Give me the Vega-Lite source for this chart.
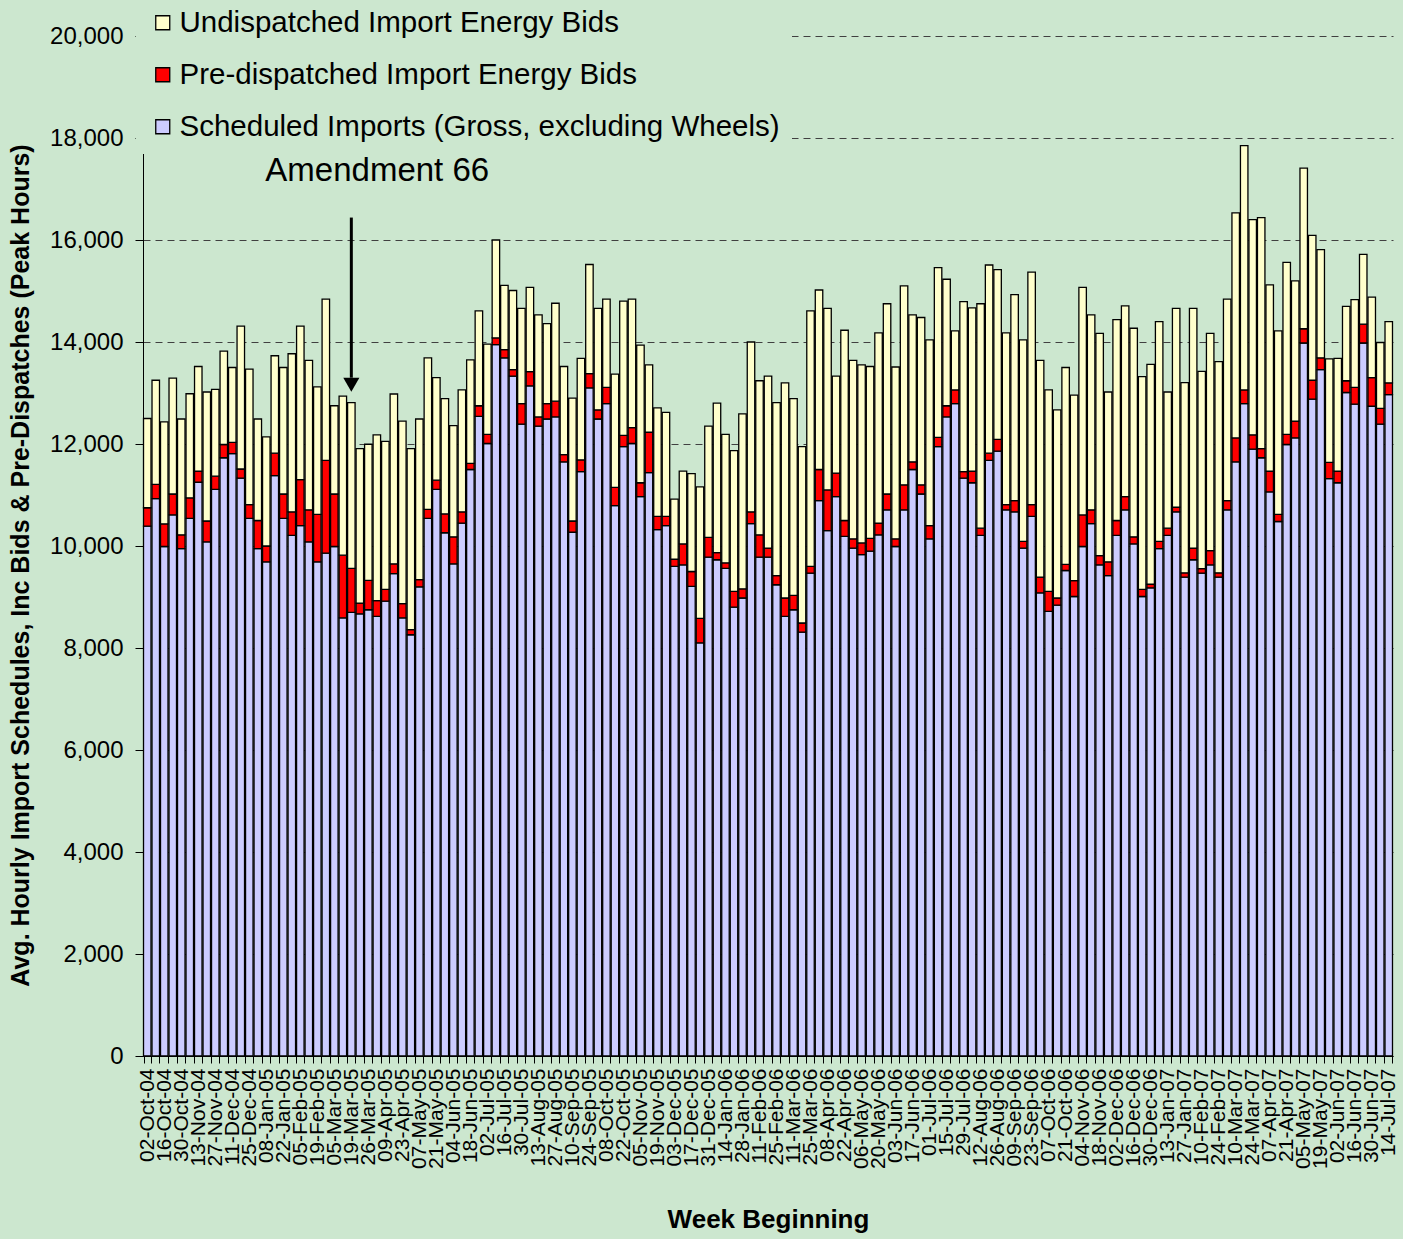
{
  "$schema": "https://vega.github.io/schema/vega-lite/v6.json",
  "width": 1250,
  "height": 1020,
  "autosize": {"type": "none"},
  "padding": {"left": 143, "top": 36, "right": 10, "bottom": 183},
  "background": "#CCE7CF",
  "config": {
    "view": {"stroke": null},
    "font": "Arial, Liberation Sans, sans-serif"
  },
  "data": {
    "values": [
      {"week":"02-Oct-04","imports":10390,"predispatched":360,"undispatched":1750},
      {"week":"09-Oct-04","imports":10930,"predispatched":280,"undispatched":2040},
      {"week":"16-Oct-04","imports":9990,"predispatched":445,"undispatched":2000},
      {"week":"23-Oct-04","imports":10610,"predispatched":410,"undispatched":2270},
      {"week":"30-Oct-04","imports":9950,"predispatched":270,"undispatched":2270},
      {"week":"06-Nov-04","imports":10540,"predispatched":405,"undispatched":2040},
      {"week":"13-Nov-04","imports":11250,"predispatched":220,"undispatched":2050},
      {"week":"20-Nov-04","imports":10080,"predispatched":410,"undispatched":2530},
      {"week":"27-Nov-04","imports":11110,"predispatched":260,"undispatched":1700},
      {"week":"04-Dec-04","imports":11730,"predispatched":260,"undispatched":1830},
      {"week":"11-Dec-04","imports":11810,"predispatched":220,"undispatched":1470},
      {"week":"18-Dec-04","imports":11330,"predispatched":180,"undispatched":2800},
      {"week":"25-Dec-04","imports":10540,"predispatched":270,"undispatched":2660},
      {"week":"01-Jan-05","imports":9950,"predispatched":550,"undispatched":1990},
      {"week":"08-Jan-05","imports":9690,"predispatched":310,"undispatched":2140},
      {"week":"15-Jan-05","imports":11380,"predispatched":440,"undispatched":1910},
      {"week":"22-Jan-05","imports":10540,"predispatched":480,"undispatched":2480},
      {"week":"29-Jan-05","imports":10210,"predispatched":460,"undispatched":3100},
      {"week":"05-Feb-05","imports":10400,"predispatched":900,"undispatched":3010},
      {"week":"12-Feb-05","imports":10080,"predispatched":630,"undispatched":2930},
      {"week":"19-Feb-05","imports":9690,"predispatched":930,"undispatched":2500},
      {"week":"26-Feb-05","imports":9860,"predispatched":1820,"undispatched":3160},
      {"week":"05-Mar-05","imports":9990,"predispatched":1030,"undispatched":1730},
      {"week":"12-Mar-05","imports":8590,"predispatched":1230,"undispatched":3120},
      {"week":"19-Mar-05","imports":8700,"predispatched":860,"undispatched":3250},
      {"week":"22-Mar-05","imports":8670,"predispatched":210,"undispatched":3030},
      {"week":"26-Mar-05","imports":8750,"predispatched":575,"undispatched":2670},
      {"week":"02-Apr-05","imports":8620,"predispatched":310,"undispatched":3250},
      {"week":"09-Apr-05","imports":8920,"predispatched":230,"undispatched":2900},
      {"week":"16-Apr-05","imports":9460,"predispatched":190,"undispatched":3330},
      {"week":"23-Apr-05","imports":8590,"predispatched":280,"undispatched":3580},
      {"week":"30-Apr-05","imports":8260,"predispatched":100,"undispatched":3550},
      {"week":"07-May-05","imports":9200,"predispatched":140,"undispatched":3150},
      {"week":"14-May-05","imports":10540,"predispatched":180,"undispatched":2970},
      {"week":"21-May-05","imports":11110,"predispatched":180,"undispatched":2010},
      {"week":"28-May-05","imports":10260,"predispatched":370,"undispatched":2260},
      {"week":"04-Jun-05","imports":9650,"predispatched":530,"undispatched":2180},
      {"week":"11-Jun-05","imports":10450,"predispatched":220,"undispatched":2390},
      {"week":"18-Jun-05","imports":11500,"predispatched":120,"undispatched":2030},
      {"week":"25-Jun-05","imports":12540,"predispatched":210,"undispatched":1860},
      {"week":"02-Jul-05","imports":12010,"predispatched":180,"undispatched":1770},
      {"week":"09-Jul-05","imports":13950,"predispatched":130,"undispatched":1920},
      {"week":"16-Jul-05","imports":13690,"predispatched":160,"undispatched":1260},
      {"week":"23-Jul-05","imports":13330,"predispatched":130,"undispatched":1550},
      {"week":"30-Jul-05","imports":12390,"predispatched":400,"undispatched":1870},
      {"week":"06-Aug-05","imports":13140,"predispatched":280,"undispatched":1650},
      {"week":"13-Aug-05","imports":12350,"predispatched":180,"undispatched":2000},
      {"week":"20-Aug-05","imports":12490,"predispatched":300,"undispatched":1570},
      {"week":"27-Aug-05","imports":12530,"predispatched":310,"undispatched":1920},
      {"week":"03-Sep-05","imports":11650,"predispatched":140,"undispatched":1730},
      {"week":"10-Sep-05","imports":10270,"predispatched":220,"undispatched":2410},
      {"week":"17-Sep-05","imports":11460,"predispatched":230,"undispatched":1990},
      {"week":"24-Sep-05","imports":13100,"predispatched":280,"undispatched":2140},
      {"week":"01-Oct-05","imports":12490,"predispatched":180,"undispatched":1990},
      {"week":"08-Oct-05","imports":12790,"predispatched":320,"undispatched":1730},
      {"week":"15-Oct-05","imports":10790,"predispatched":360,"undispatched":2220},
      {"week":"22-Oct-05","imports":11950,"predispatched":220,"undispatched":2630},
      {"week":"29-Oct-05","imports":12010,"predispatched":310,"undispatched":2520},
      {"week":"05-Nov-05","imports":10970,"predispatched":270,"undispatched":2700},
      {"week":"12-Nov-05","imports":11440,"predispatched":790,"undispatched":1320},
      {"week":"19-Nov-05","imports":10320,"predispatched":260,"undispatched":2130},
      {"week":"26-Nov-05","imports":10400,"predispatched":180,"undispatched":2040},
      {"week":"03-Dec-05","imports":9600,"predispatched":140,"undispatched":1180},
      {"week":"10-Dec-05","imports":9630,"predispatched":410,"undispatched":1430},
      {"week":"17-Dec-05","imports":9210,"predispatched":290,"undispatched":1920},
      {"week":"24-Dec-05","imports":8100,"predispatched":480,"undispatched":2580},
      {"week":"31-Dec-05","imports":9780,"predispatched":390,"undispatched":2180},
      {"week":"07-Jan-06","imports":9730,"predispatched":140,"undispatched":2930},
      {"week":"14-Jan-06","imports":9560,"predispatched":110,"undispatched":2520},
      {"week":"21-Jan-06","imports":8800,"predispatched":310,"undispatched":2760},
      {"week":"28-Jan-06","imports":8980,"predispatched":180,"undispatched":3430},
      {"week":"04-Feb-06","imports":10440,"predispatched":230,"undispatched":3330},
      {"week":"11-Feb-06","imports":9780,"predispatched":440,"undispatched":3020},
      {"week":"18-Feb-06","imports":9780,"predispatched":180,"undispatched":3370},
      {"week":"25-Feb-06","imports":9240,"predispatched":180,"undispatched":3390},
      {"week":"04-Mar-06","imports":8620,"predispatched":360,"undispatched":4220},
      {"week":"11-Mar-06","imports":8750,"predispatched":280,"undispatched":3860},
      {"week":"18-Mar-06","imports":8310,"predispatched":180,"undispatched":3460},
      {"week":"25-Mar-06","imports":9470,"predispatched":130,"undispatched":5010},
      {"week":"01-Apr-06","imports":10890,"predispatched":610,"undispatched":3520},
      {"week":"08-Apr-06","imports":10300,"predispatched":800,"undispatched":3560},
      {"week":"15-Apr-06","imports":10970,"predispatched":460,"undispatched":1900},
      {"week":"22-Apr-06","imports":10190,"predispatched":310,"undispatched":3730},
      {"week":"29-Apr-06","imports":9960,"predispatched":180,"undispatched":3500},
      {"week":"06-May-06","imports":9830,"predispatched":230,"undispatched":3490},
      {"week":"13-May-06","imports":9900,"predispatched":250,"undispatched":3370},
      {"week":"20-May-06","imports":10220,"predispatched":230,"undispatched":3730},
      {"week":"27-May-06","imports":10710,"predispatched":310,"undispatched":3730},
      {"week":"03-Jun-06","imports":9990,"predispatched":150,"undispatched":3370},
      {"week":"10-Jun-06","imports":10710,"predispatched":490,"undispatched":3900},
      {"week":"17-Jun-06","imports":11500,"predispatched":150,"undispatched":2880},
      {"week":"24-Jun-06","imports":11020,"predispatched":180,"undispatched":3280},
      {"week":"01-Jul-06","imports":10140,"predispatched":260,"undispatched":3640},
      {"week":"08-Jul-06","imports":11950,"predispatched":180,"undispatched":3330},
      {"week":"15-Jul-06","imports":12530,"predispatched":220,"undispatched":2480},
      {"week":"22-Jul-06","imports":12790,"predispatched":270,"undispatched":1160},
      {"week":"29-Jul-06","imports":11330,"predispatched":130,"undispatched":3330},
      {"week":"05-Aug-06","imports":11240,"predispatched":230,"undispatched":3200},
      {"week":"12-Aug-06","imports":10210,"predispatched":140,"undispatched":4400},
      {"week":"19-Aug-06","imports":11680,"predispatched":140,"undispatched":3690},
      {"week":"26-Aug-06","imports":11860,"predispatched":230,"undispatched":3330},
      {"week":"02-Sep-06","imports":10710,"predispatched":100,"undispatched":3370},
      {"week":"09-Sep-06","imports":10670,"predispatched":220,"undispatched":4040},
      {"week":"16-Sep-06","imports":9960,"predispatched":130,"undispatched":3950},
      {"week":"23-Sep-06","imports":10580,"predispatched":230,"undispatched":4560},
      {"week":"30-Sep-06","imports":9080,"predispatched":310,"undispatched":4250},
      {"week":"07-Oct-06","imports":8720,"predispatched":390,"undispatched":3950},
      {"week":"14-Oct-06","imports":8840,"predispatched":140,"undispatched":3690},
      {"week":"21-Oct-06","imports":9520,"predispatched":120,"undispatched":3860},
      {"week":"28-Oct-06","imports":9010,"predispatched":310,"undispatched":3640},
      {"week":"04-Nov-06","imports":9990,"predispatched":620,"undispatched":4460},
      {"week":"11-Nov-06","imports":10440,"predispatched":270,"undispatched":3820},
      {"week":"18-Nov-06","imports":9630,"predispatched":180,"undispatched":4360},
      {"week":"25-Nov-06","imports":9420,"predispatched":270,"undispatched":3330},
      {"week":"02-Dec-06","imports":10210,"predispatched":290,"undispatched":3940},
      {"week":"09-Dec-06","imports":10710,"predispatched":260,"undispatched":3740},
      {"week":"16-Dec-06","imports":10040,"predispatched":140,"undispatched":4090},
      {"week":"23-Dec-06","imports":9010,"predispatched":140,"undispatched":4170},
      {"week":"30-Dec-06","imports":9180,"predispatched":70,"undispatched":4310},
      {"week":"06-Jan-07","imports":9950,"predispatched":140,"undispatched":4310},
      {"week":"13-Jan-07","imports":10210,"predispatched":140,"undispatched":2670},
      {"week":"20-Jan-07","imports":10670,"predispatched":90,"undispatched":3900},
      {"week":"27-Jan-07","imports":9390,"predispatched":85,"undispatched":3730},
      {"week":"03-Feb-07","imports":9730,"predispatched":230,"undispatched":4700},
      {"week":"10-Feb-07","imports":9470,"predispatched":85,"undispatched":3870},
      {"week":"17-Feb-07","imports":9630,"predispatched":280,"undispatched":4260},
      {"week":"24-Feb-07","imports":9390,"predispatched":85,"undispatched":4140},
      {"week":"03-Mar-07","imports":10710,"predispatched":180,"undispatched":3950},
      {"week":"10-Mar-07","imports":11650,"predispatched":470,"undispatched":4410},
      {"week":"17-Mar-07","imports":12790,"predispatched":270,"undispatched":4790},
      {"week":"24-Mar-07","imports":11900,"predispatched":280,"undispatched":4220},
      {"week":"31-Mar-07","imports":11730,"predispatched":180,"undispatched":4530},
      {"week":"07-Apr-07","imports":11060,"predispatched":410,"undispatched":3650},
      {"week":"14-Apr-07","imports":10480,"predispatched":140,"undispatched":3600},
      {"week":"21-Apr-07","imports":11990,"predispatched":200,"undispatched":3370},
      {"week":"28-Apr-07","imports":12120,"predispatched":330,"undispatched":2750},
      {"week":"05-May-07","imports":13980,"predispatched":280,"undispatched":3150},
      {"week":"12-May-07","imports":12880,"predispatched":370,"undispatched":2840},
      {"week":"19-May-07","imports":13460,"predispatched":230,"undispatched":2120},
      {"week":"26-May-07","imports":11320,"predispatched":320,"undispatched":2030},
      {"week":"02-Jun-07","imports":11240,"predispatched":230,"undispatched":2210},
      {"week":"09-Jun-07","imports":13010,"predispatched":230,"undispatched":1460},
      {"week":"16-Jun-07","imports":12780,"predispatched":330,"undispatched":1720},
      {"week":"23-Jun-07","imports":13980,"predispatched":370,"undispatched":1370},
      {"week":"30-Jun-07","imports":12740,"predispatched":560,"undispatched":1580},
      {"week":"07-Jul-07","imports":12390,"predispatched":310,"undispatched":1290},
      {"week":"14-Jul-07","imports":12970,"predispatched":230,"undispatched":1200}
    ]
  },
  "layer": [
    {
      "transform": [
        {"fold": ["imports", "predispatched", "undispatched"], "as": ["series", "value"]}
      ],
      "mark": {"type": "bar", "stroke": "black", "strokeWidth": 1.3},
      "encoding": {
        "x": {
          "field": "week",
          "type": "nominal",
          "sort": null,
          "scale": {"paddingInner": 0.12, "paddingOuter": 0.06},
          "axis": {
            "title": "Week Beginning",
            "titleFontSize": 26,
            "titleFontWeight": "bold",
            "titleColor": "black",
            "titleX": 625,
            "titleY": 171,
            "titleAlign": "center",
            "titleBaseline": "alphabetic",
            "labelAngle": -90,
            "labelAlign": "right",
            "labelBaseline": "middle",
            "labelFontSize": 21,
            "labelColor": "black",
            "labelPadding": 5,
            "labelOverlap": false,
            "labelLimit": 200,
            "labelExpr": "round(datum.index * 146) % 2 == 0 ? datum.label : ''",
            "tickBand": "extent",
            "tickSize": 7,
            "tickColor": "black",
            "domainColor": "black",
            "grid": false
          }
        },
        "y": {
          "field": "value",
          "type": "quantitative",
          "stack": "zero",
          "scale": {"domain": [0, 20000], "nice": false},
          "axis": {
            "title": "Avg. Hourly Import Schedules, Inc Bids & Pre-Dispatches (Peak Hours)",
            "titleFontSize": 25,
            "titleFontWeight": "bold",
            "titleColor": "black",
            "titleAngle": -90,
            "titleX": -115,
            "titleY": 529,
            "titleAlign": "center",
            "titleBaseline": "alphabetic",
            "values": [0, 2000, 4000, 6000, 8000, 10000, 12000, 14000, 16000, 18000, 20000],
            "format": ",d",
            "labelFontSize": 24,
            "labelColor": "black",
            "labelPadding": 12,
            "tickSize": 8,
            "tickColor": "black",
            "domainColor": "black",
            "grid": true,
            "gridColor": "#404040",
            "gridDash": [7, 5],
            "gridWidth": 1
          }
        },
        "order": {"field": "series", "sort": "ascending"},
        "color": {
          "field": "series",
          "type": "nominal",
          "scale": {
            "domain": ["undispatched", "predispatched", "imports"],
            "range": ["#FFFFCC", "#FF0000", "#CCCCFF"]
          },
          "legend": {
            "title": null,
            "orient": "none",
            "direction": "vertical",
            "legendX": -7,
            "legendY": -40,
            "padding": 12,
            "fillColor": "#CCE7CF",
            "symbolType": "square",
            "symbolSize": 196,
            "symbolStrokeColor": "black",
            "symbolStrokeWidth": 1.3,
            "labelFontSize": 29.5,
            "labelColor": "black",
            "labelOffset": 2,
            "labelLimit": 800,
            "rowPadding": 21,
            "labelExpr": "datum.value == 'undispatched' ? 'Undispatched Import Energy Bids' : datum.value == 'predispatched' ? 'Pre-dispatched Import Energy Bids' : 'Scheduled Imports (Gross, excluding Wheels)'"
          }
        }
      }
    },
    {
      "transform": [{"filter": "datum.week == '19-Mar-05'"}],
      "mark": {"type": "rule", "color": "black", "strokeWidth": 3},
      "encoding": {
        "x": {"field": "week", "type": "nominal", "sort": null},
        "y": {"datum": 16440},
        "y2": {"datum": 13300}
      }
    },
    {
      "transform": [{"filter": "datum.week == '19-Mar-05'"}],
      "mark": {"type": "point", "shape": "triangle-down", "filled": true, "color": "black", "opacity": 1, "size": 260},
      "encoding": {
        "x": {"field": "week", "type": "nominal", "sort": null},
        "y": {"datum": 13160}
      }
    },
    {
      "transform": [{"filter": "datum.week == '19-Mar-05'"}],
      "mark": {"type": "text", "text": "Amendment 66", "align": "left", "baseline": "alphabetic", "dx": -86, "fontSize": 33, "color": "black"},
      "encoding": {
        "x": {"field": "week", "type": "nominal", "sort": null},
        "y": {"datum": 17150}
      }
    }
  ]
}
